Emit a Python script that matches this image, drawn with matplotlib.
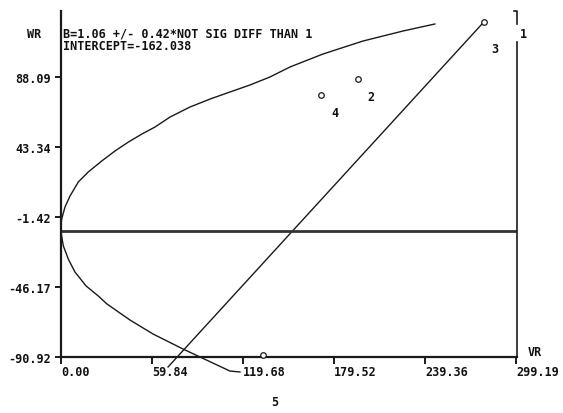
import matplotlib.pyplot as plt

# confidence curve (lower branch end -> vertex -> upper branch end)
CURVE_X = [117.7, 111.1, 91.4, 80.2, 60.5, 45.4, 30.2, 24.5, 16.5, 9.2, 4.8, 1.5, 0.3, 0.0,
           0.46, 2.63, 5.92, 11.4, 17.95, 26.8, 35.5, 44.3, 53.1, 61.8, 71.7, 84.8, 98.0,
           111.1, 124.3, 137.4, 150.6, 172.3, 198.6, 224.9, 245.9]
CURVE_Y = [-100.5, -99.9, -90.9, -85.8, -76.2, -67.3, -57.0, -51.9, -45.5, -36.6, -28.3, -19.8, -12.9, -6.5,
           -2.7, 5.0, 12.0, 21.0, 27.4, 34.4, 40.8, 46.5, 51.6, 56.1, 62.5, 68.9, 74.0,
           78.5, 83.0, 88.1, 94.5, 102.8, 111.1, 117.5, 122.0]

# fitted line ends
FIT_X = [70.4, 278.2]
FIT_Y = [-97.3, 123.4]
HLINE_Y = -10.4

# observations
PT_X = [278.2, 195.3, 171.0, 132.8]
PT_Y = [123.4, 86.8, 76.6, -89.6]
PT_LABELS = ['3', '2', '4', '5']

XTICKS = [0.00, 59.84, 119.68, 179.52, 239.36, 299.19]
YTICKS = [-90.92, -46.17, -1.42, 43.34, 88.09]

W, H = 563, 414
FONT = dict(family='DejaVu Sans Mono', weight='bold', size=8.5, color='#111111')
INK = '#1a1a1a'

fig = plt.figure(figsize=(W / 100, H / 100), dpi=100)
ax = fig.add_axes([61 / W, 56 / H, 456 / W, 346 / H])
ax.set_xlim(0, 299.9)
ax.set_ylim(-90.92, 130.3)

ax.plot(CURVE_X, CURVE_Y, color=INK, lw=1.0, clip_on=False)
ax.plot(FIT_X, FIT_Y, color=INK, lw=1.0, clip_on=False)
ax.axhline(HLINE_Y, color='#333333', lw=2.0)
ax.plot(PT_X, PT_Y, 'o', ms=4, mfc='white', mec=INK, mew=0.9, clip_on=False, zorder=5)

offsets = [(11, -27), (13, -17), (14, -18), (12, -47)]
for x, y, lab, off in zip(PT_X, PT_Y, PT_LABELS, offsets):
    ax.annotate(lab, (x, y), xytext=off, textcoords='offset pixels',
                ha='center', va='center', **FONT)

ax.spines['top'].set_visible(False)
for s in ['left', 'bottom']:
    ax.spines[s].set_linewidth(1.6)
    ax.spines[s].set_color(INK)
ax.spines['right'].set_linewidth(1.2)
ax.spines['right'].set_color(INK)
ax.spines['right'].set_bounds(-90.92, 110.4)
# little top bit of right border above the "1" label
x1 = ax.get_xlim()[1]
y1 = ax.get_ylim()[1]
ax.plot([x1 - 2, x1, x1], [y1, y1, 122.0], color=INK, lw=1.2, clip_on=False)

ax.set_xticks(XTICKS)
ax.set_xticklabels([f'{v:.2f}' for v in XTICKS], **FONT)
ax.set_yticks(YTICKS)
ax.set_yticklabels([f'{v:.2f}' for v in YTICKS], **FONT)
ax.tick_params(axis='y', direction='out', length=4, width=1.4, pad=3, color=INK)
ax.tick_params(axis='x', direction='out', length=5, width=1.4, pad=1, color=INK)
for lab in ax.get_xticklabels():
    lab.set_ha('left')

fig.text(34 / W, 1 - 35 / H, 'WR', ha='center', va='center', **FONT)
fig.text(535 / W, 1 - 353 / H, 'VR', ha='center', va='center', **FONT)
fig.text(523 / W, 1 - 35 / H, '1', ha='center', va='center', **FONT)
fig.text(63 / W, 1 - 34 / H, 'B=1.06 +/- 0.42*NOT SIG DIFF THAN 1', ha='left', va='center', **FONT)
fig.text(63 / W, 1 - 47 / H, 'INTERCEPT=-162.038', ha='left', va='center', **FONT)

fig.savefig('out.png', dpi=100)
